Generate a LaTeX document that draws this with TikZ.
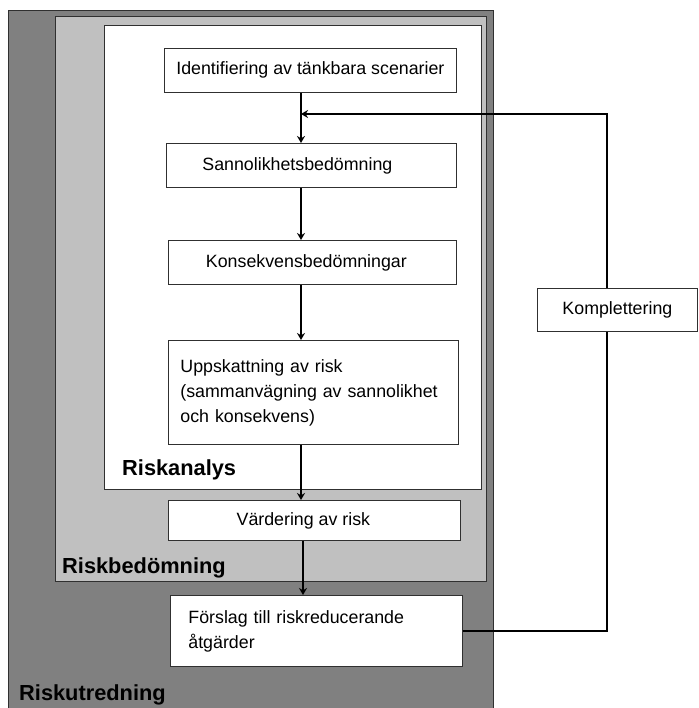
\documentclass[tikz,border=0pt]{standalone}
\usepackage{fontspec}
\setmainfont{Liberation Sans}
\usetikzlibrary{arrows.meta}
\definecolor{dgray}{HTML}{808080}
\definecolor{lgray}{HTML}{C0C0C0}
\definecolor{edgec}{HTML}{303030}
\begin{document}
\begin{tikzpicture}[x=1pt,y=-1pt,
  zone/.style={draw=edgec,line width=0.9pt},
  stepbox/.style={draw=edgec,fill=white,line width=0.8pt,font=\fontsize{17.8}{25}\selectfont,inner sep=0pt,anchor=north west},
  zonelabel/.style={font=\bfseries\fontsize{21.8}{26}\selectfont,anchor=base west,inner sep=0pt},
  flow/.style={line width=1.7pt,-{Stealth[length=7pt,width=8pt]}}]
\useasboundingbox (0,0) rectangle (698,708);
\fill[white] (0,0) rectangle (698,708);
\draw[zone,fill=dgray] (8,10) rectangle (493,720);
\draw[zone,fill=lgray] (55,16) rectangle (486,581);
\draw[zone,fill=white] (104,25) rectangle (481,489);

\node[stepbox,minimum width=292pt,minimum height=44pt] (ident) at (164,48) {Identifiering av tänkbara scenarier};
\node[stepbox,minimum width=290pt,minimum height=44pt] (sann) at (166,143) {Sannolikhetsbedömning\hspace*{28pt}};
\node[stepbox,minimum width=288pt,minimum height=44pt] (kons) at (168,240) {Konsekvensbedömningar\hspace*{12pt}};
\node[stepbox,minimum height=104pt,inner xsep=12pt,text width=266pt,align=left] (upps) at (168,340) {Uppskattning av risk\\(sammanvägning av sannolikhet\\och konsekvens)\\[6pt]};
\node[stepbox,minimum width=292pt,minimum height=40pt] (vard) at (168,500) {Värdering av risk\hspace*{22pt}};
\node[stepbox,minimum height=71pt,inner xsep=18pt,text width=256pt,align=left] (prop) at (170,595) {Förslag till riskreducerande\\åtgärder};

\node[zonelabel] (lanalys) at (122,475) {Riskanalys};
\node[zonelabel] (lbed) at (62,573) {Riskbedömning};
\node[zonelabel] (lutr) at (19,700) {Riskutredning};

\coordinate (ax) at (301,0);
\draw[flow] (ident.south -| ax) -- (sann.north -| ax);
\draw[flow] (sann.south -| ax) -- (kons.north -| ax);
\draw[flow] (kons.south -| ax) -- (upps.north -| ax);
\draw[flow] (upps.south -| ax) -- (vard.north -| ax);
\coordinate (ax2) at (303,0);
\draw[flow] (vard.south -| ax2) -- (prop.north -| ax2);

\coordinate (fb) at (607,114);
\draw[flow] (prop.east) -| (fb) -- (fb -| ax);
\node[stepbox,minimum width=160pt,minimum height=43pt] (komp) at (537,288) {Komplettering};
\end{tikzpicture}
\end{document}
